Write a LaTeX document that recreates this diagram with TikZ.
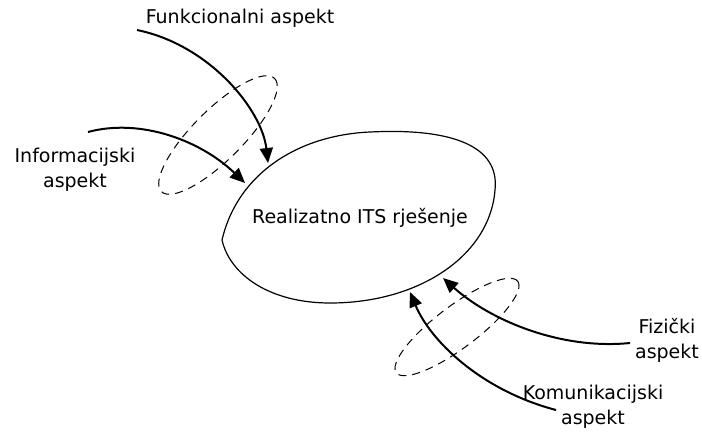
\documentclass[tikz,border=0pt]{standalone}
\usepackage{fontspec}
\setmainfont{DejaVu Sans}
\usetikzlibrary{arrows.meta}

\begin{document}
\begin{tikzpicture}[x=1pt, y=-1pt,
    font=\fontsize{19}{25}\selectfont,
    aspect/.style={align=center, inner sep=0pt},
    flow/.style={line width=2pt, -{Triangle[length=15pt, width=13pt]}},
    ring/.style={dash pattern=on 8pt off 6pt, line width=1pt},
]
    \useasboundingbox (0,0) rectangle (702,432);

    % solution (centre)
    \draw[line width=1.2pt] (222,240) .. controls (238,172) and (300,135) .. (370,132)
        .. controls (450,128) and (500,145) .. (495,190)
        .. controls (490,255) and (420,303) .. (330,303)
        .. controls (270,303) and (230,275) .. (222,240) -- cycle;
    \node (its) at (360,218) {Realizatno ITS rješenje};

    % aspects
    \node[aspect] (fun) at (240,18) {Funkcionalni aspekt};
    \node[aspect] (inf) at (75,170) {Informacijski\\aspekt};
    \node[aspect] (fiz) at (667,340) {Fizički\\aspekt};
    \node[aspect] (kom) at (593,407) {Komunikacijski\\aspekt};

    % where the arrows start and stop
    \coordinate (fun-start) at (137,30);
    \coordinate (fun-end) at (268,163);
    \coordinate (inf-start) at (88,132);
    \coordinate (inf-end) at (245,183);
    \coordinate (fiz-start) at (630,343);
    \coordinate (fiz-end) at (443,278);
    \coordinate (kom-start) at (556,410);
    \coordinate (kom-end) at (410,292);

    % upper pair
    \draw[ring, rotate around={45:(218,135)}] (218,135) ellipse [x radius=80, y radius=25];
    \draw[flow] (fun-start) .. controls (210,45) and (262,110) .. (fun-end);
    \draw[flow] (inf-start) .. controls (140,118) and (200,140) .. (inf-end);

    % lower pair
    \draw[ring, rotate around={37:(457,327)}] (457,327) ellipse [x radius=76, y radius=21];
    \draw[flow] (fiz-start) .. controls (560,350) and (490,320) .. (fiz-end);
    \draw[flow] (kom-start) .. controls (480,390) and (430,340) .. (kom-end);

\end{tikzpicture}
\end{document}
